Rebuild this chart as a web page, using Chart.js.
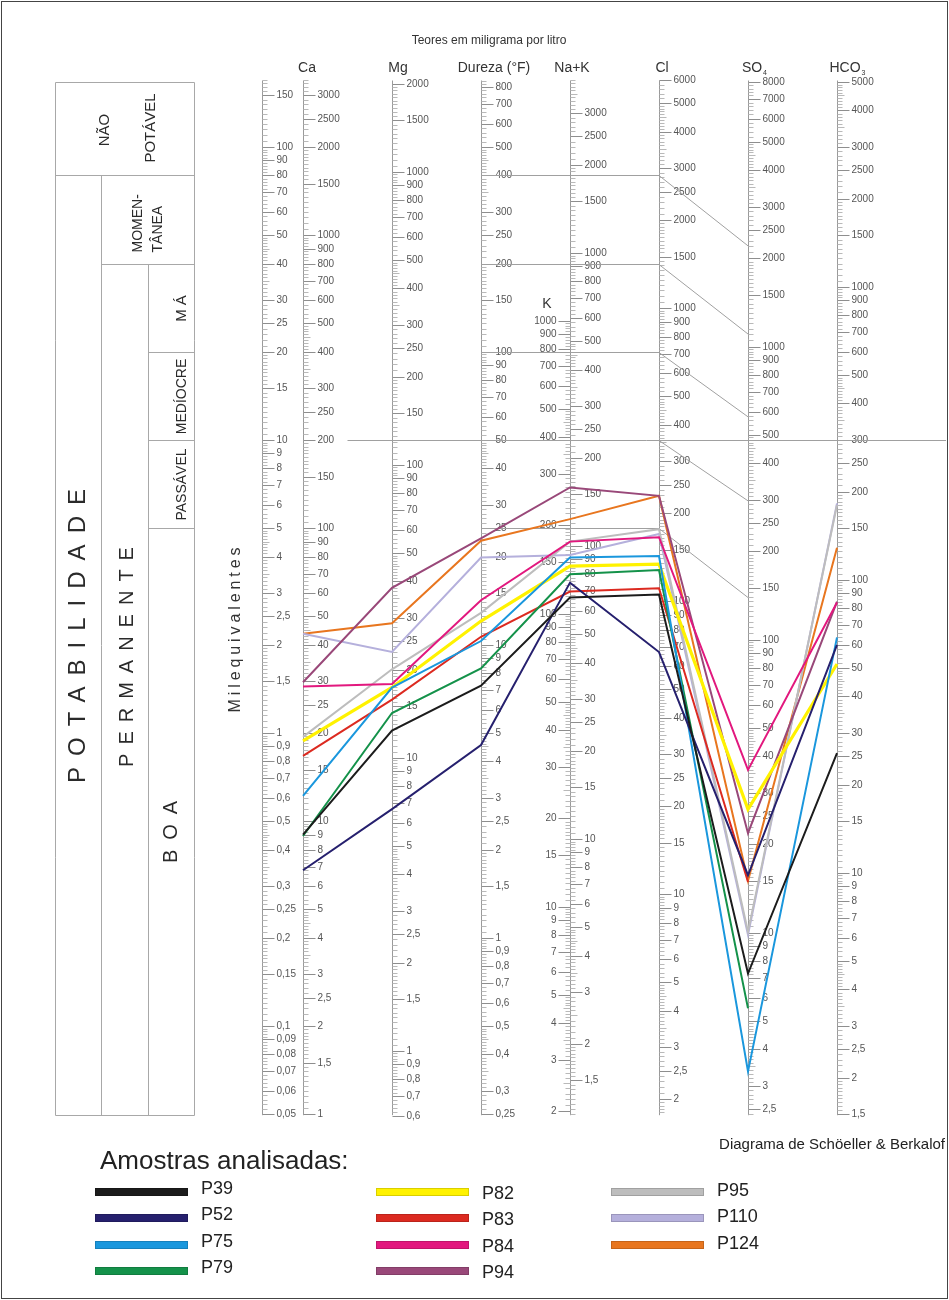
<!DOCTYPE html>
<html>
<head>
<meta charset="utf-8">
<script src="https://cdn.jsdelivr.net/npm/chart.js@4.4.1/dist/chart.umd.min.js"></script>
<style>
  html, body { margin: 0; padding: 0; background: #fff; }
  canvas { display: block; }
</style>
</head>
<body>
<canvas id="diagram" width="949" height="1300"></canvas>
<script>
// Columns of the diagram (one vertical scale each)
const columns = ['Ca', 'Mg', 'Dureza (°F)', 'Na+K', 'Cl', 'SO4', 'HCO3'];

// Sample analyses, in milliequivalents per litre, column by column
const P39  = [0.45, 1.02, 1.45, 2.90, 2.97, 0.151, 0.853];
const P52  = [0.34, 0.55, 0.91, 3.26, 1.89, 0.327, 2.00];
const P75  = [0.61, 1.43, 2.06, 3.97, 4.02, 0.070, 2.12];
const P79  = [0.445, 1.17, 1.66, 3.48, 3.60, 0.115, null];
const P82  = [0.94, 1.43, 2.41, 3.71, 3.77, 0.549, 1.72];
const P83  = [0.836, 1.30, 2.13, 3.04, 3.12, 0.31, null];
const P84  = [1.44, 1.47, 2.84, 4.50, 4.66, 0.748, 2.79];
const P94  = [1.49, 3.13, 4.62, 6.89, 6.45, 0.455, 2.81];
const P95  = [0.97, 1.65, 2.57, 4.50, 4.96, 0.21, 6.00];
const P110 = [2.18, 1.89, 3.97, 4.05, 4.78, 0.205, 6.08];
const P124 = [2.18, 2.37, 4.53, 5.37, 6.45, 0.313, 4.29];

const sampleNames  = ['P39', 'P52', 'P75', 'P79', 'P82', 'P83', 'P84', 'P94', 'P95', 'P110', 'P124'];
const sampleValues = [P39, P52, P75, P79, P82, P83, P84, P94, P95, P110, P124];
const sampleColors = ['#1c1c1c', '#26206e', '#1a97dd', '#14924a', '#fff200', '#dc2a20',
                      '#e2187e', '#994879', '#bdbdbd', '#b5b0dc', '#e8761f'];

// Potability limits: hardness level (meq) carried across to Cl, then slanted to SO4
const hardnessLimits = [80, 40, 20, 10, 5];
const sulfateLimits  = [46, 23, 12, 6.2, 2.9];

// Tick labels of each vertical scale (mg/l, except the meq scale)
const meqLabels = [150,100,90,80,70,60,50,40,30,25,20,15,10,9,8,7,6,5,4,3,2.5,2,1.5,1,0.9,0.8,0.7,0.6,0.5,0.4,0.3,0.25,0.2,0.15,0.1,0.09,0.08,0.07,0.06,0.05];
const caLabels = [3000,2500,2000,1500,1000,900,800,700,600,500,400,300,250,200,150,100,90,80,70,60,50,40,30,25,20,15,10,9,8,7,6,5,4,3,2.5,2,1.5,1];
const mgLabels = [2000,1500,1000,900,800,700,600,500,400,300,250,200,150,100,90,80,70,60,50,40,30,25,20,15,10,9,8,7,6,5,4,3,2.5,2,1.5,1,0.9,0.8,0.7,0.6];
const durezaLabels = [800,700,600,500,400,300,250,200,150,100,90,80,70,60,50,40,30,25,20,15,10,9,8,7,6,5,4,3,2.5,2,1.5,1,0.9,0.8,0.7,0.6,0.5,0.4,0.3,0.25];
const naLabels = [3000,2500,2000,1500,1000,900,800,700,600,500,400,300,250,200,150,100,90,80,70,60,50,40,30,25,20,15,10,9,8,7,6,5,4,3,2,1.5];
const kLabels = [1000,900,800,700,600,500,400,300,200,150,100,90,80,70,60,50,40,30,20,15,10,9,8,7,6,5,4,3,2];
const clLabels = [6000,5000,4000,3000,2500,2000,1500,1000,900,800,700,600,500,400,300,250,200,150,100,90,80,70,60,50,40,30,25,20,15,10,9,8,7,6,5,4,3,2.5,2];
const so4Labels = [8000,7000,6000,5000,4000,3000,2500,2000,1500,1000,900,800,700,600,500,400,300,250,200,150,100,90,80,70,60,50,40,30,25,20,15,10,9,8,7,6,5,4,3,2.5];
const hco3Labels = [5000,4000,3000,2500,2000,1500,1000,900,800,700,600,500,400,300,250,200,150,100,90,80,70,60,50,40,30,25,20,15,10,9,8,7,6,5,4,3,2.5,2,1.5];

// mg per milliequivalent for each scale
const FACTOR = { meq: 1, Ca: 20, Mg: 12.15, Dureza: 5, Na: 23, K: 39.1, Cl: 35.5, SO4: 48, HCO3: 30 };

const FONT = '"Liberation Sans", Arial, Helvetica, sans-serif';
const fmt = v => String(v).replace('.', ',');

function vtext(ctx, str, x, y, size, align, baseline, spacing, color) {
  ctx.save();
  ctx.translate(x, y);
  ctx.rotate(-Math.PI / 2);
  ctx.font = size + 'px ' + FONT;
  ctx.fillStyle = color || '#2a2a2a';
  ctx.textAlign = align;
  ctx.textBaseline = baseline;
  let dx = 0;
  if (spacing) {
    ctx.letterSpacing = spacing + 'px';
    if (align === 'center') dx = spacing / 2;
  }
  ctx.fillText(str, dx, 0);
  ctx.restore();
}

function hline(ctx, x1, x2, y) {
  ctx.beginPath(); ctx.moveTo(x1, y); ctx.lineTo(x2, y); ctx.stroke();
}
function vline(ctx, x, y1, y2) {
  ctx.beginPath(); ctx.moveTo(x, y1); ctx.lineTo(x, y2); ctx.stroke();
}

// One graduated log ruler; dir = 1 ticks to the right, -1 to the left
function drawRuler(ctx, yScale, area, x, factor, labels, dir, spine, limitToLabels) {
  const px = Math.round(x) + 0.5;
  ctx.lineWidth = 1;
  if (spine) {
    ctx.strokeStyle = '#9a9a9a';
    vline(ctx, px, area.top + 1, area.bottom + 1);
  }
  let lo = 0.05 * factor * 0.999, hi = 170 * factor;
  if (limitToLabels) { lo = Math.min(...labels) * 0.999; hi = Math.max(...labels) * 1.02; }
  const e0 = Math.floor(Math.log10(lo)), e1 = Math.ceil(Math.log10(hi));
  ctx.strokeStyle = '#b9b9b9';
  ctx.beginPath();
  for (let e = e0; e <= e1; e++) {
    const base = Math.pow(10, e);
    let k = 100;
    while (k < 1000) {
      const v = k / 100 * base;
      if (v >= lo && v <= hi) {
        const y = Math.round(yScale.getPixelForValue(v / factor)) + 0.5;
        if (y >= area.top && y <= area.bottom + 2) {
          const len = (k % 100 === 0) ? 9 : (k % 50 === 0 ? 7 : 5);
          ctx.moveTo(px, y); ctx.lineTo(px + dir * len, y);
        }
      }
      k += k < 200 ? 5 : (k < 500 ? 10 : 20);
    }
  }
  ctx.stroke();
  ctx.font = '10px ' + FONT;
  ctx.fillStyle = '#555';
  ctx.textBaseline = 'middle';
  ctx.textAlign = dir > 0 ? 'left' : 'right';
  ctx.strokeStyle = '#8e8e8e';
  for (const v of labels) {
    const y = Math.round(yScale.getPixelForValue(v / factor)) + 0.5;
    hline(ctx, px, px + dir * 12, y);
    ctx.fillText(fmt(v), px + dir * 14, y);
  }
}

const diagramPlugin = {
  id: 'schoellerBerkaloff',
  beforeDatasetsDraw(chart) {
    const ctx = chart.ctx;
    const area = chart.chartArea;
    const xs = chart.scales.x, ys = chart.scales.y;
    const X = i => xs.getPixelForValue(i);
    const Y = v => ys.getPixelForValue(v);
    ctx.save();

    // titles
    ctx.fillStyle = '#333';
    ctx.textBaseline = 'middle';
    ctx.textAlign = 'center';
    ctx.font = '12px ' + FONT;
    ctx.fillText('Teores em miligrama por litro', 489, 41);

    const headOffsets = [4, 6, 13, 2, 3, 4, 8];
    const heads = ['Ca', 'Mg', 'Dureza (°F)', 'Na+K', 'Cl', 'SO', 'HCO'];
    const subs = ['', '', '', '', '', '4', '3'];
    heads.forEach((h, i) => {
      const cx = X(i) + headOffsets[i];
      ctx.font = '14px ' + FONT;
      ctx.textAlign = 'center';
      ctx.fillText(h, cx, 68);
      if (subs[i]) {
        const w = ctx.measureText(h).width;
        ctx.font = '7px ' + FONT;
        ctx.textAlign = 'left';
        ctx.fillText(subs[i], cx + w / 2 + 1, 73);
      }
    });
    ctx.font = '14px ' + FONT;
    ctx.textAlign = 'center';
    ctx.fillText('K', X(3) - 23, 304);

    // graduated scales
    drawRuler(ctx, ys, area, X(0) - 41, FACTOR.meq, meqLabels, 1, true, false);
    drawRuler(ctx, ys, area, X(0), FACTOR.Ca, caLabels, 1, true, false);
    drawRuler(ctx, ys, area, X(1), FACTOR.Mg, mgLabels, 1, true, false);
    drawRuler(ctx, ys, area, X(2), FACTOR.Dureza, durezaLabels, 1, true, false);
    drawRuler(ctx, ys, area, X(3), FACTOR.Na, naLabels, 1, true, false);
    drawRuler(ctx, ys, area, X(3), FACTOR.K, kLabels, -1, false, true);
    drawRuler(ctx, ys, area, X(4), FACTOR.Cl, clLabels, 1, true, false);
    drawRuler(ctx, ys, area, X(5), FACTOR.SO4, so4Labels, 1, true, false);
    drawRuler(ctx, ys, area, X(6), FACTOR.HCO3, hco3Labels, 1, true, false);

    // potability limit lines
    ctx.strokeStyle = '#a0a0a0';
    ctx.lineWidth = 1;
    hardnessLimits.forEach((h, i) => {
      const y = Math.round(Y(h)) + 0.5;
      ctx.beginPath();
      if (h === 10) {
        ctx.moveTo((X(0) + X(1)) / 2, y);
        ctx.lineTo(946, y);
      } else {
        ctx.moveTo(X(2), y);
        ctx.lineTo(X(4), y);
      }
      ctx.moveTo(X(4), y);
      ctx.lineTo(X(5), Y(sulfateLimits[i]));
      ctx.stroke();
    });

    // potability table
    const tL = 55.5, tC1 = 101.5, tC2 = 148.5, tR = 194.5;
    const tTop = Math.round(area.top) + 2.5, tBot = Math.round(area.bottom) + 1.5;
    const rows = hardnessLimits.map(h => Math.round(Y(h)) + 0.5);
    ctx.strokeStyle = '#a8a8a8';
    ctx.beginPath();
    ctx.rect(tL, tTop, tR - tL, tBot - tTop);
    ctx.stroke();
    hline(ctx, tL, tR, rows[0]);
    vline(ctx, tC1, rows[0], tBot);
    hline(ctx, tC1, tR, rows[1]);
    vline(ctx, tC2, rows[1], tBot);
    hline(ctx, tC2, tR, rows[2]);
    hline(ctx, tC2, tR, rows[3]);
    hline(ctx, tC2, tR, rows[4]);

    vtext(ctx, 'NÃO', 109, (tTop + rows[0]) / 2 + 1, 15, 'center', 'alphabetic');
    vtext(ctx, 'POTÁVEL', 155, (tTop + rows[0]) / 2 - 1, 15, 'center', 'alphabetic');
    vtext(ctx, 'MOMEN-', 142, rows[1] - 12, 14, 'left', 'alphabetic');
    vtext(ctx, 'TÂNEA', 162, rows[1] - 12, 14, 'left', 'alphabetic');
    vtext(ctx, 'M Á', 186, (rows[1] + rows[2]) / 2, 15, 'center', 'alphabetic');
    vtext(ctx, 'MEDÍOCRE', 186, (rows[2] + rows[3]) / 2, 14, 'center', 'alphabetic');
    vtext(ctx, 'PASSÁVEL', 186, (rows[3] + rows[4]) / 2, 14, 'center', 'alphabetic');
    vtext(ctx, 'POTABILIDADE', 85, 636, 24, 'center', 'alphabetic', 11);
    vtext(ctx, 'PERMANENTE', 133, 657, 20, 'center', 'alphabetic', 9);
    vtext(ctx, 'BOA', 177, 832, 20, 'center', 'alphabetic', 10);

    vtext(ctx, 'Milequivalentes', 236, 630, 16, 'center', 'middle', 3.9, '#333');

    ctx.restore();
  },
  afterDatasetsDraw(chart) {
    const ctx = chart.ctx;
    ctx.save();

    ctx.fillStyle = '#222';
    ctx.textBaseline = 'middle';
    ctx.textAlign = 'right';
    ctx.font = '15px ' + FONT;
    ctx.fillText('Diagrama de Schöeller & Berkalof', 945, 1145);

    ctx.textAlign = 'left';
    ctx.font = '26px ' + FONT;
    ctx.fillText('Amostras analisadas:', 100, 1162);

    // sample key, four entries per column
    const colX = [95, 376, 611];
    const rowY = [1192, 1218, 1245, 1271];
    const textDy = [-3, 2, -1];
    ctx.font = '18px ' + FONT;
    chart.data.datasets.forEach((ds, i) => {
      const c = Math.floor(i / 4), r = i % 4;
      const x = colX[c], y = rowY[r];
      ctx.fillStyle = ds.borderColor;
      ctx.fillRect(x, y - 4, 93, 8);
      ctx.strokeStyle = 'rgba(0,0,0,0.15)';
      ctx.lineWidth = 1;
      ctx.strokeRect(x + 0.5, y - 3.5, 92, 7);
      ctx.fillStyle = '#222';
      ctx.fillText(ds.label, x + 106, y + textDy[c]);
    });

    // outer frame
    ctx.strokeStyle = '#444';
    ctx.lineWidth = 1;
    ctx.strokeRect(1.5, 1.5, 946, 1297);
    ctx.restore();
  }
};

const datasets = sampleNames.map((name, i) => ({
  label: name,
  data: sampleValues[i],
  borderColor: sampleColors[i],
  backgroundColor: sampleColors[i],
  borderWidth: name === 'P82' ? 3.2 : 2,
  pointRadius: 0,
  tension: 0,
  fill: false,
  spanGaps: false
}));

new Chart(document.getElementById('diagram').getContext('2d'), {
  type: 'line',
  data: { labels: columns, datasets },
  options: {
    responsive: false,
    animation: false,
    devicePixelRatio: 1,
    layout: { padding: { left: 303, right: 112, top: 79.5, bottom: 185.8 } },
    scales: {
      x: { type: 'category', display: false, offset: false },
      y: { type: 'logarithmic', display: false, min: 0.05, max: 170 }
    },
    plugins: { legend: { display: false }, tooltip: { enabled: false } }
  },
  plugins: [diagramPlugin]
});
</script>
</body>
</html>
